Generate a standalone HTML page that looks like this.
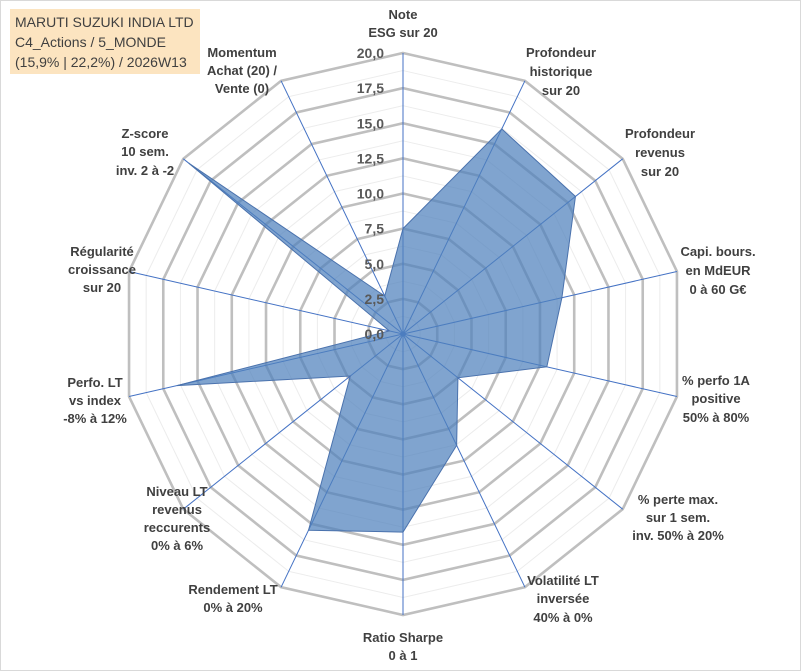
<!DOCTYPE html>
<html><head><meta charset="utf-8"><style>
html,body{margin:0;padding:0;background:#fff;}
svg{display:block;font-family:"Liberation Sans",sans-serif;}
.lbl{font-weight:bold;font-size:13px;fill:#404040;text-anchor:middle;}
.tick{font-weight:bold;font-size:14px;fill:#595959;text-anchor:end;}
</style></head><body>
<svg id="chart" width="801" height="671" viewBox="0 0 801 671">
<rect x="0.5" y="0.5" width="800" height="670" fill="#fff" stroke="#d9d9d9"/>
<g id="grid"></g>
<g id="axes"></g>
<g id="series"></g>
<g id="ticks"></g>
<g id="labels">
<text class="lbl"><tspan x="403" y="19">Note</tspan><tspan x="403" y="37">ESG sur 20</tspan></text>
<text class="lbl"><tspan x="561" y="57">Profondeur</tspan><tspan x="561" y="76">historique</tspan><tspan x="561" y="95">sur 20</tspan></text>
<text class="lbl"><tspan x="660" y="138">Profondeur</tspan><tspan x="660" y="157">revenus</tspan><tspan x="660" y="176">sur 20</tspan></text>
<text class="lbl"><tspan x="718" y="256">Capi. bours.</tspan><tspan x="718" y="275">en MdEUR</tspan><tspan x="718" y="294">0 à 60 G€</tspan></text>
<text class="lbl"><tspan x="716" y="385">% perfo 1A</tspan><tspan x="716" y="403">positive</tspan><tspan x="716" y="422">50% à 80%</tspan></text>
<text class="lbl"><tspan x="678" y="504">% perte max.</tspan><tspan x="678" y="522">sur 1 sem.</tspan><tspan x="678" y="540">inv. 50% à 20%</tspan></text>
<text class="lbl"><tspan x="563" y="585">Volatilité LT</tspan><tspan x="563" y="603">inversée</tspan><tspan x="563" y="622">40% à 0%</tspan></text>
<text class="lbl"><tspan x="403" y="642">Ratio Sharpe</tspan><tspan x="403" y="660">0 à 1</tspan></text>
<text class="lbl"><tspan x="233" y="594">Rendement LT</tspan><tspan x="233" y="612">0% à 20%</tspan></text>
<text class="lbl"><tspan x="177" y="496">Niveau LT</tspan><tspan x="177" y="514">revenus</tspan><tspan x="177" y="532">reccurents</tspan><tspan x="177" y="550">0% à 6%</tspan></text>
<text class="lbl"><tspan x="95" y="387">Perfo. LT</tspan><tspan x="95" y="405">vs index</tspan><tspan x="95" y="423">-8% à 12%</tspan></text>
<text class="lbl"><tspan x="102" y="256">Régularité</tspan><tspan x="102" y="274">croissance</tspan><tspan x="102" y="292">sur 20</tspan></text>
<text class="lbl"><tspan x="145" y="138">Z-score</tspan><tspan x="145" y="156">10 sem.</tspan><tspan x="145" y="175">inv. 2 à -2</tspan></text>
<text class="lbl"><tspan x="242" y="57">Momentum</tspan><tspan x="242" y="75">Achat (20) /</tspan><tspan x="242" y="93">Vente (0)</tspan></text>
</g>
<g>
<rect x="10" y="9" width="190" height="65" fill="#fce4c0"/>
<text font-size="14" fill="#404040"><tspan x="15" y="27">MARUTI SUZUKI INDIA LTD</tspan><tspan x="15" y="47">C4_Actions / 5_MONDE</tspan><tspan x="15" y="67">(15,9% | 22,2%) / 2026W13</tspan></text>
</g>
</svg>
<script>
const categories = ["ESG","Prof. historique","Prof. revenus","Capi","Perfo 1A","Perte max","Volatilité","Sharpe","Rendement","Niveau LT","Perfo LT","Régularité","Z-score","Momentum"];
const values = [7.5, 16.2, 15.7, 11.6, 10.5, 5.0, 8.8, 14.1, 15.5, 4.8, 16.5, 1.0, 19.5, 3.0];
const tickValues = [0, 2.5, 5, 7.5, 10, 12.5, 15, 17.5, 20];
const tickLabels = ["0,0","2,5","5,0","7,5","10,0","12,5","15,0","17,5","20,0"];
const NS = "http://www.w3.org/2000/svg";
const cx = 403, cy = 334, R = 281, maxV = 20;
const n = categories.length;
function rScale(v){ return v / maxV * R; }
function pt(i, v){ const a = i * 2 * Math.PI / n; const r = rScale(v); return [cx + r*Math.sin(a), cy - r*Math.cos(a)]; }
function mk(tag, attrs, parent){ const e = document.createElementNS(NS, tag); for (const k in attrs) e.setAttribute(k, attrs[k]); parent.appendChild(e); return e; }
const grid = document.getElementById('grid');
for (let t = 1; t <= 16; t++) {
  const v = t * 1.25;
  const pts = categories.map((c,i)=>pt(i,v).join(',')).join(' ');
  const major = t % 2 === 0;
  const ring = mk('polygon', {points: pts, fill:'none', stroke: major ? '#bfbfbf' : '#ececec', 'stroke-width': major ? 2.6 : 1}, grid);
  
  
}
const axes = document.getElementById('axes');
categories.forEach((c,i)=>{
  const p = pt(i, maxV);
  const l = mk('line', {x1:cx, y1:cy, x2:p[0], y2:p[1], stroke:'#4472c4', 'stroke-width':1}, axes);
  
  
});
const series = document.getElementById('series');
const poly = mk('polygon', {points: values.map((v,i)=>pt(i,v).join(',')).join(' '), fill:'#4f81bd', 'fill-opacity':0.72, stroke:'#4a72ad', 'stroke-width':1}, series);


mk('circle', {cx:cx, cy:cy, r:2.5, fill:'#4472c4'}, axes);
const ticks = document.getElementById('ticks');
tickValues.forEach((v,i)=>{
  const t = mk('text', {x:384, y:cy - rScale(v) + 5, class:'tick'}, ticks);
  t.textContent = tickLabels[i];
  
  
});
</script>
</body></html>
